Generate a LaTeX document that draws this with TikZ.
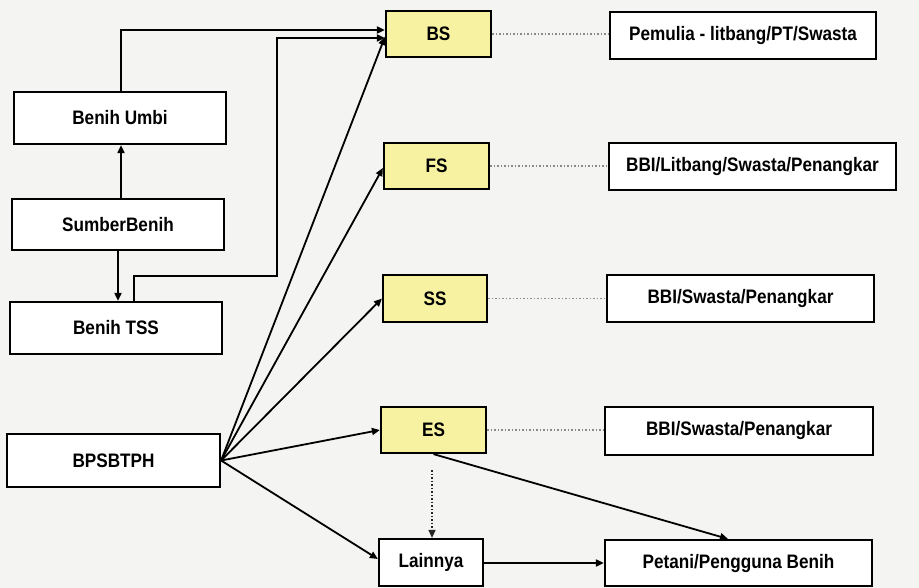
\documentclass[tikz,border=0pt]{standalone}
\usepackage{fontspec}
\setmainfont[FakeStretch=0.88]{Liberation Sans}
\usetikzlibrary{arrows.meta}
\definecolor{bg}{HTML}{F4F4F3}
\definecolor{ylw}{HTML}{F6F2A2}
\definecolor{dotc}{HTML}{8A8A8A}
\tikzset{
  box/.style={draw=black, line width=2.2pt, fill=white, inner sep=0pt, font=\bfseries\fontsize{19.5}{21}\selectfont},
  ybox/.style={box, fill=ylw},
  conn/.style={line width=1.8pt, -{Triangle[length=8pt,width=7pt]}},
  dotconn/.style={dotc, line width=1.5pt, dotted},
}
\begin{document}
\begin{tikzpicture}[x=1pt,y=-1pt]
\fill[bg] (0,0) rectangle (919,588);
\useasboundingbox (0,0) rectangle (919,588);
% left column
\node[box, minimum width=212pt, minimum height=52pt] (umbi) at (120,118) {Benih Umbi};
\node[box, minimum width=212pt, minimum height=51pt] (sumber) at (118,224.5) {SumberBenih};
\node[box, minimum width=212pt, minimum height=52pt] (tss) at (116,328) {Benih TSS};
\node[box, minimum width=213pt, minimum height=53pt] (bps) at (113.5,460.5) {BPSBTPH};
% middle column
\node[ybox, minimum width=105pt, minimum height=46pt] (bs) at (438.5,34) {BS};
\node[ybox, minimum width=105pt, minimum height=46pt] (fs) at (436.5,166) {FS};
\node[ybox, minimum width=104pt, minimum height=47pt] (ss) at (435,298.5) {SS};
\node[ybox, minimum width=105pt, minimum height=46pt] (es) at (433.5,430) {ES};
\node[box, minimum width=104pt, minimum height=47pt] (lain) at (431,562.5) {Lainnya};
% right column
\node[box, minimum width=266pt, minimum height=47pt] (pem) at (743,35.5) {Pemulia - litbang/PT/Swasta};
\node[box, minimum width=287pt, minimum height=47pt] (bbi1) at (752.5,166.5) {BBI/Litbang/Swasta/Penangkar};
\node[box, minimum width=267pt, minimum height=47pt] (bbi2) at (740.5,298.5) {BBI/Swasta/Penangkar};
\node[box, minimum width=268pt, minimum height=48pt] (bbi3) at (739,431) {BBI/Swasta/Penangkar};
\node[box, minimum width=267pt, minimum height=46pt] (pet) at (738.5,563) {Petani/Pengguna Benih};
% left connectors
\draw[conn] (sumber.north -| 121,0) -- (umbi.south -| 121,0);
\draw[conn] (sumber.south -| 118,0) -- (tss.north -| 118,0);
\draw[conn] (umbi.north -| 121,0) |- (bs.west |- 0,30);
\draw[conn] (tss.north -| 134,0) -- (134,276) -- (277,276) |- (bs.west |- 0,38);
% fan from BPSBTPH
\coordinate (fan) at (bps.east);
\draw[conn] (fan) -- (bs.west |- 0,37);
\draw[conn] (fan) -- (fs.west |- 0,168);
\draw[conn] (fan) -- (ss.west);
\draw[conn] (fan) -- (es.west);
\draw[conn] (fan) -- (lain.west |- 0,559);
% lower connectors
\draw[conn] (es.south) -- (pet.north -| 728,0);
\draw[conn] (lain.east |- 0,563) -- (pet.west |- 0,563);
\draw[dotconn, -{Triangle[length=8pt,width=7pt]}, black!85] (432,470) -- (lain.north -| 432,0);
% dotted links
\draw[dotconn] (bs.east) -- (pem.west |- bs.east);
\draw[dotconn] (fs.east) -- (bbi1.west |- fs.east);
\draw[dotconn] (ss.east) -- (bbi2.west |- ss.east);
\draw[dotconn] (es.east) -- (bbi3.west |- es.east);
\end{tikzpicture}
\end{document}
